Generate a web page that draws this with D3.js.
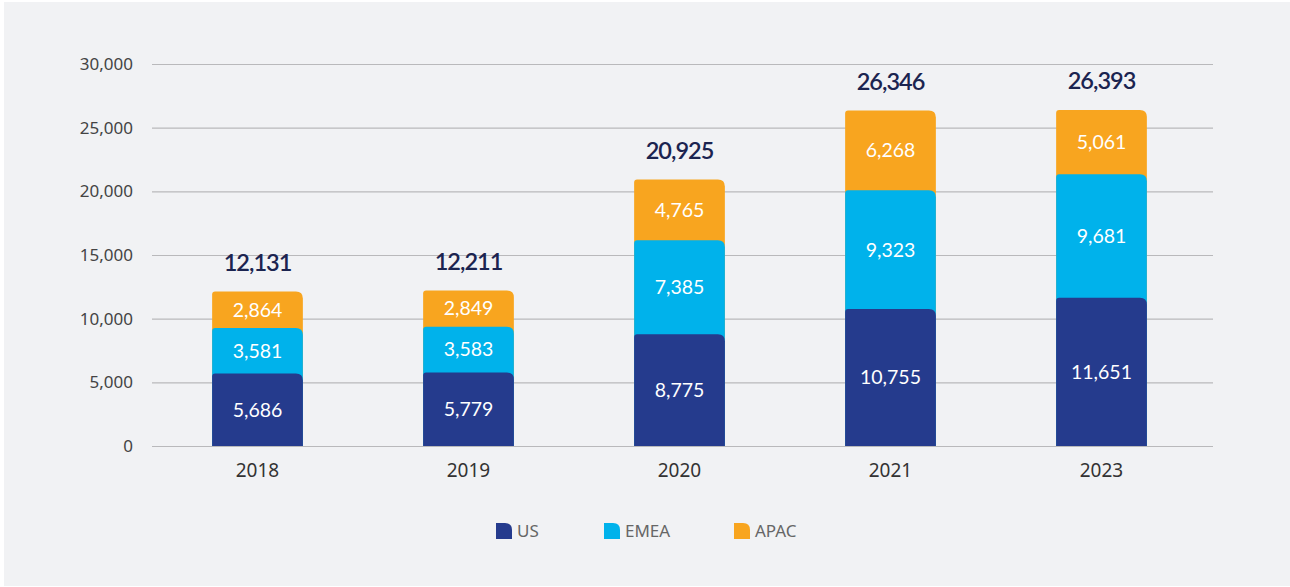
<!DOCTYPE html>
<html>
<head>
<meta charset="utf-8">
<script src="https://cdn.jsdelivr.net/npm/d3@7"></script>
<style>
    body { margin: 0; background: #fff; }
    #chart { width: 1290px; height: 587px; }
</style>
</head>
<body>
<div id="chart"></div>
<script>
const years = ['2018', '2019', '2020', '2021', '2023'];
const us = [5686, 5779, 8775, 10755, 11651];
const emea = [3581, 3583, 7385, 9323, 9681];
const apac = [2864, 2849, 4765, 6268, 5061];
const totals = [12131, 12211, 20925, 26346, 26393];
const regions = ['US', 'EMEA', 'APAC'];
const colors = ['#253b8d', '#00b2eb', '#f8a51f'];
const yTicks = [0, 5000, 10000, 15000, 20000, 25000, 30000];

const width = 1290, height = 587;
const margin = { top: 64, right: 77, bottom: 141, left: 152 };

const svg = d3.select('#chart').append('svg')
    .attr('width', width)
    .attr('height', height);

svg.append('rect')
    .attr('x', 4).attr('y', 2)
    .attr('width', width - 4).attr('height', height - 3)
    .attr('fill', '#f1f2f4');

// bands sit a little left of the grid's right end
const x = d3.scaleBand()
    .domain(years)
    .range([margin.left, width - margin.right - 6])
    .paddingInner(0.57)
    .paddingOuter(0.285);

const y = d3.scaleLinear()
    .domain([0, 30000])
    .range([height - margin.bottom, margin.top]);

const fmt = d3.format(',');

// grid + y labels
const yAxis = svg.append('g')
    .attr('transform', `translate(${margin.left},0)`)
    .call(d3.axisLeft(y).tickValues(yTicks).tickSize(-(width - margin.left - margin.right)).tickPadding(19).tickFormat(fmt));
yAxis.select('.domain').remove();
yAxis.selectAll('.tick line').attr('stroke', '#b9b9bb').attr('stroke-width', 1.2);
yAxis.selectAll('.tick text')
    .attr('fill', '#444')
    .style('font-family', '"Source Sans Pro", "Noto Sans", sans-serif')
    .style('font-size', '17px');

// x labels
svg.append('g').selectAll('text')
    .data(years)
    .enter().append('text')
    .attr('x', d => x(d) + x.bandwidth() / 2)
    .attr('y', y(0) + 31)
    .attr('text-anchor', 'middle')
    .attr('fill', '#333')
    .style('font-family', '"Noto Sans", sans-serif')
    .style('font-size', '19px')
    .text(d => d);

// stacked data
const rows = years.map((yr, i) => ({ year: yr, US: us[i], EMEA: emea[i], APAC: apac[i] }));
const stacked = d3.stack().keys(regions)(rows);

// rounded top corners (small left, larger right); runs down to baseline so lower segment covers it
function segPath(x0, w, top, bottom, rl, rr) {
    return `M${x0},${bottom} L${x0},${top + rl} Q${x0},${top} ${x0 + rl},${top}` +
        ` L${x0 + w - rr},${top} Q${x0 + w},${top} ${x0 + w},${top + rr} L${x0 + w},${bottom} Z`;
}

const bars = svg.append('g');
for (let s = stacked.length - 1; s >= 0; s--) {
    bars.selectAll(null)
        .data(stacked[s])
        .enter().append('path')
        .attr('d', d => segPath(x(d.data.year), x.bandwidth(), y(d[1]), y(0), 3, 7))
        .attr('fill', colors[s]);
}

// segment labels
stacked.forEach(layer => {
    svg.append('g').selectAll('text')
        .data(layer)
        .enter().append('text')
        .attr('x', d => x(d.data.year) + x.bandwidth() / 2)
        .attr('y', d => (y(d[0]) + y(d[1])) / 2)
        .attr('dy', '0.35em')
        .attr('text-anchor', 'middle')
        .attr('fill', '#fff')
        .style('font-family', 'Lato, sans-serif')
        .style('font-size', '19.5px')
        .text(d => fmt(d[1] - d[0]));
});

// totals
svg.append('g').selectAll('text')
    .data(totals)
    .enter().append('text')
    .attr('x', (d, i) => x(years[i]) + x.bandwidth() / 2)
    .attr('y', d => y(d) - 21)
    .attr('text-anchor', 'middle')
    .attr('fill', '#1b2450')
    .style('font-family', 'Lato, sans-serif')
    .style('font-weight', 600)
    .style('font-size', '23.5px')
    .style('letter-spacing', '-1px')
    .text(d => fmt(d));

// legend
const legendX = [496, 604, 734];
const legend = svg.append('g').selectAll('g')
    .data(regions)
    .enter().append('g')
    .attr('transform', (d, i) => `translate(${legendX[i]},523)`);
legend.append('path')
    .attr('d', 'M0,16 L0,0 L9,0 Q16,0 16,7 L16,16 Z')
    .attr('fill', (d, i) => colors[i]);
legend.append('text')
    .attr('x', 21)
    .attr('y', 8)
    .attr('dy', '0.35em')
    .attr('fill', '#666')
    .style('font-family', '"Source Sans Pro", "Noto Sans", sans-serif')
    .style('font-size', '17px')
    .text(d => d);
</script>
</body>
</html>
